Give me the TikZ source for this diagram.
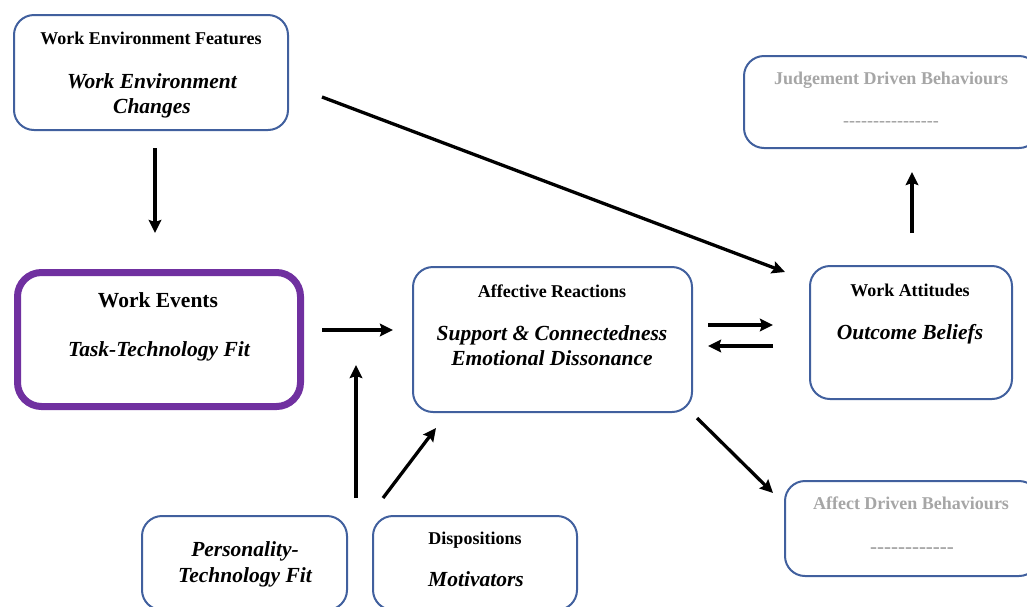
\documentclass[tikz,border=0pt]{standalone}
\usepackage{fontspec}
\setmainfont{Liberation Serif}
\usetikzlibrary{calc,arrows.meta}
\definecolor{bbord}{HTML}{41609E}
\definecolor{purp}{HTML}{7030A0}
\definecolor{gtext}{HTML}{A6A6A6}
\newcommand{\hyrun}[1]{\foreach \k in {1,...,#1}{\hbox{-}}}
\begin{document}
\begin{tikzpicture}[x=1pt,y=-1pt,
  bbox/.style={draw=bbord,line width=2pt,rounded corners=20pt,fill=white,inner sep=0pt},
  pbox/.style={draw=purp,line width=7pt,rounded corners=24pt,fill=white,inner sep=0pt},
  ttl/.style={font=\fontsize{18}{22}\selectfont\bfseries,inner sep=0pt,anchor=base},
  big/.style={font=\fontsize{21.5}{25}\selectfont\bfseries,inner sep=0pt,anchor=base},
  itl/.style={font=\fontsize{21.5}{25}\selectfont\bfseries\itshape,inner sep=0pt,anchor=base},
  gry/.style={font=\fontsize{18}{22}\selectfont\bfseries,text=gtext,inner sep=0pt,anchor=base},
  arr/.style={line width=3.3pt,-{Stealth[length=13pt,width=12.5pt,inset=2pt]}}]
\useasboundingbox (0,0) rectangle (1027,606);
\clip (0,0) rectangle (1027,606);
% boxes
\node[bbox,minimum width=274,minimum height=115] (wef) at (151,72.5) {};
\node[bbox,minimum width=295,minimum height=92] (jdb) at (891.5,102) {};
\node[pbox,minimum width=283,minimum height=134] (we) at (159,339.5) {};
\node[bbox,minimum width=279,minimum height=145] (ar) at (552.5,339.5) {};
\node[bbox,minimum width=202,minimum height=133] (wa) at (911,332.5) {};
\node[bbox,minimum width=254,minimum height=95] (adb) at (912,528.5) {};
\node[bbox,minimum width=205,minimum height=94] (ptf) at (244.5,563) {};
\node[bbox,minimum width=204,minimum height=94] (disp) at (475,563) {};
% texts
\node[ttl] (wef-t) at (151,44) {Work Environment Features};
\node[itl] (wef-a) at (152,88) {Work Environment};
\node[itl] (wef-b) at (152,113) {Changes};
\node[gry] (jdb-t) at (891,84) {Judgement Driven Behaviours};
\node[gry] (jdb-d) at (891,126) {\hyrun{16}};
\node[big] (we-t) at (158,307) {Work Events};
\node[itl] (we-a) at (159,356) {Task-Technology Fit};
\node[ttl] (ar-t) at (552,297) {Affective Reactions};
\node[itl] (ar-a) at (552,340) {Support \& Connectedness};
\node[itl] (ar-b) at (552,365) {Emotional Dissonance};
\node[ttl] (wa-t) at (910,296) {Work Attitudes};
\node[itl] (wa-a) at (910,339) {Outcome Beliefs};
\node[gry] (adb-t) at (911,509) {Affect Driven Behaviours};
\node[gry,font=\fontsize{21}{22}\selectfont\bfseries] (adb-d) at (912,553) {\hyrun{12}};
\node[itl] (ptf-a) at (245,556) {Personality-};
\node[itl] (ptf-b) at (245,582) {Technology Fit};
\node[ttl] (disp-t) at (475,544) {Dispositions};
\node[itl] (disp-a) at (476,586) {Motivators};
% arrows
\draw[arr] ($(wef.south)+(4,17)$) -- ($(we.north)+(-4,-36)$);
\draw[arr] ($(wef.east)+(33,24.5)$) -- ($(wa.north west)+(-24,7)$);
\draw[arr] ($(we.east)+(18,-9.5)$) -- ($(ar.west)+(-19,-9.5)$);
\draw[arr] ($(ptf.north east)+(8,-17)$) -- ($(ar.west)+(-56,25.5)$);
\draw[arr] ($(disp.north west)+(11,-17)$) -- ($(ar.south west)+(24,15)$);
\draw[arr] ($(ar.east)+(15,-14.5)$) -- ($(wa.west)+(-36,-7.5)$);
\draw[arr] ($(wa.west)+(-36,13.5)$) -- ($(ar.east)+(15,6.5)$);
\draw[arr] ($(wa.north)+(1,-32)$) -- ($(jdb.south)+(20.5,23)$);
\draw[arr] ($(ar.south east)+(4,5)$) -- ($(adb.north west)+(-11,13)$);
\end{tikzpicture}
\end{document}
